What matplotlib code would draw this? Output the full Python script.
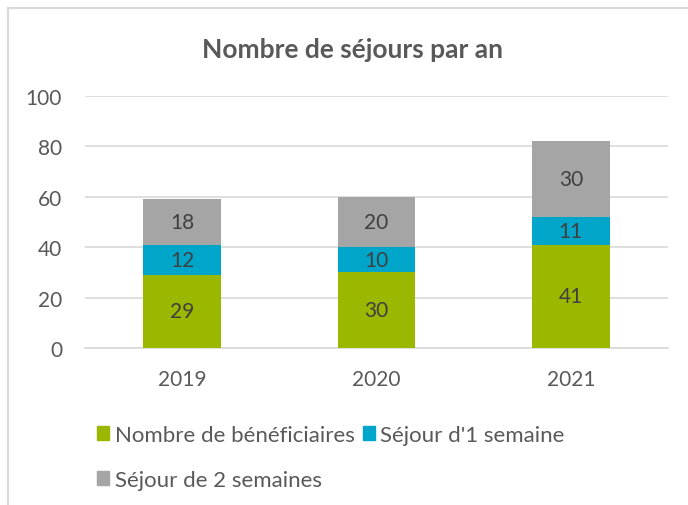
import matplotlib
matplotlib.use("Agg")
import matplotlib.pyplot as plt
from matplotlib.patches import Patch
from matplotlib.lines import Line2D
import numpy as np

years = ["2019", "2020", "2021"]
beneficiaires = [29, 30, 41]
sejour_1 = [12, 10, 11]
sejour_2 = [18, 20, 30]
series_names = ["Nombre de bénéficiaires", "Séjour d'1 semaine", "Séjour de 2 semaines"]
colors = ["#9BB700", "#00A5CA", "#A5A5A5"]
title = "Nombre de séjours par an"
yticks = [0, 20, 40, 60, 80, 100]

plt.rcParams['font.family'] = ['Lato', 'DejaVu Sans']
text_col = "#595959"
lab_col = "#404040"

fig = plt.figure(figsize=(6.88, 5.06), dpi=100)
ax = fig.add_axes([85/688, 1-349/506, (668-85)/688, (349-97)/506])

x = np.arange(len(years))
w = 0.40
bottom = np.zeros(len(years))
handles = []
for vals, col, name in zip([beneficiaires, sejour_1, sejour_2], colors, series_names):
    ax.bar(x, vals, w, bottom=bottom, color=col, zorder=3, label=name)
    for xi, b, v in zip(x, bottom, vals):
        ax.text(xi, b + v/2, str(v), ha="center", va="center", fontsize=15, color=lab_col, zorder=4)
    bottom += np.array(vals)
    handles.append(Patch(facecolor=col, edgecolor=col))

ax.set_xlim(-0.5, 2.5)
ax.set_ylim(0, 100)
ax.set_yticks(yticks)
ax.set_xticks(x)
ax.set_xticklabels(years)
ax.tick_params(axis="both", length=0, labelsize=15, colors=text_col)
ax.tick_params(axis="y", pad=16.5)
ax.tick_params(axis="x", pad=15)
ax.grid(axis="y", color="#D9D9D9", linewidth=1.2, zorder=0)
for s in ["top", "right", "left"]:
    ax.spines[s].set_visible(False)
ax.spines["bottom"].set_color("#D9D9D9")
ax.spines["bottom"].set_linewidth(1.2)

fig.text(353/688, 1-50/506, title, ha="center", va="center", fontsize=19,
         fontweight="bold", color=text_col)

# legend (column-first fill -> reorder)
fig.legend([handles[0], handles[2], handles[1]],
           [series_names[0], series_names[2], series_names[1]],
           ncol=2, loc="upper left", bbox_to_anchor=(86/688, 1-415/506),
           frameon=False, fontsize=16, handlelength=0.55, handleheight=0.6,
           handletextpad=0.25, columnspacing=0.35, labelspacing=1.13,
           borderpad=0, labelcolor=text_col)

# chart border (partially visible)
bc = "#D9D9D9"
fig.add_artist(Line2D([8/688, 8/688], [0, 1-9/506], color=bc, linewidth=1.5, transform=fig.transFigure))
fig.add_artist(Line2D([8/688, 1], [1-9/506, 1-9/506], color=bc, linewidth=1.5, transform=fig.transFigure))

fig.savefig("out.png", dpi=100)
